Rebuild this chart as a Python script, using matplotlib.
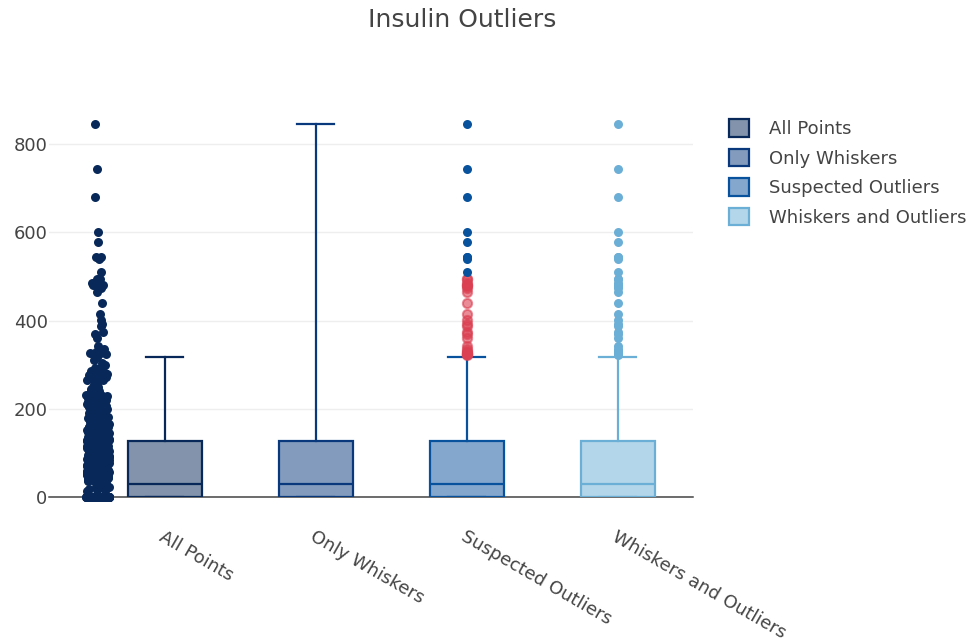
import matplotlib
matplotlib.use("Agg")
import matplotlib.pyplot as plt
from matplotlib.patches import Patch
import numpy as np

plt.rcParams["font.family"] = ["DejaVu Sans"]

# ---- data -------------------------------------------------------------
title = "Insulin Outliers"
categories = ["All Points", "Only Whiskers", "Suspected Outliers", "Whiskers and Outliers"]
colors = ["#072859", "#09387d", "#08519c", "#6baed6"]
suspected_color = (219 / 255, 64 / 255, 82 / 255, 0.6)

# insulin readings (Pima diabetes data)
insulin = [
    0, 0, 0, 94, 168, 0, 88, 0, 543, 0, 0, 0, 0, 846, 175, 0, 230, 0, 83, 96, 235, 0, 0, 0, 146, 115,
    0, 140, 110, 0, 0, 245, 54, 0, 0, 192, 0, 0, 0, 207, 70, 0, 0, 240, 0, 0, 82, 36, 23, 0, 300, 342,
    0, 304, 110, 0, 142, 128, 0, 0, 38, 100, 90, 140, 0, 270, 0, 0, 71, 0, 125, 0, 0, 71, 110, 0, 0,
    176, 48, 0, 64, 228, 0, 76, 64, 220, 0, 40, 0, 152, 0, 140, 18, 36, 135, 495, 37, 0, 175, 0, 0, 0,
    51, 100, 0, 100, 0, 0, 99, 135, 94, 145, 0, 168, 0, 225, 0, 49, 140, 50, 92, 0, 325, 0, 0, 63, 0,
    284, 0, 0, 119, 0, 0, 204, 0, 155, 485, 0, 0, 94, 135, 53, 114, 0, 105, 285, 0, 0, 156, 0, 0, 0,
    78, 0, 130, 0, 48, 55, 130, 0, 130, 0, 0, 0, 92, 23, 0, 0, 0, 495, 58, 114, 160, 0, 94, 0, 0, 0,
    210, 0, 48, 99, 318, 0, 0, 0, 44, 190, 0, 280, 0, 87, 0, 0, 0, 0, 130, 175, 271, 129, 120, 0, 0,
    478, 0, 0, 190, 56, 32, 0, 0, 744, 53, 0, 370, 37, 0, 45, 0, 192, 0, 0, 0, 0, 88, 0, 176, 194, 0,
    0, 680, 402, 0, 0, 0, 55, 0, 258, 0, 0, 0, 375, 150, 130, 0, 0, 0, 0, 67, 0, 0, 0, 0, 0, 57, 0, 0,
    0, 0, 116, 0, 0, 278, 0, 122, 155, 0, 0, 135, 545, 220, 49, 75, 40, 74, 182, 194, 0, 120, 360,
    215, 184, 0, 0, 42, 0, 0, 105, 132, 148, 180, 205, 0, 148, 96, 85, 0, 94, 64, 0, 140, 0, 231, 0,
    0, 29, 0, 168, 156, 0, 120, 68, 0, 52, 0, 58, 255, 0, 0, 171, 0, 105, 73, 0, 0, 108, 83, 0, 0, 74,
    0, 0, 0, 43, 167, 0, 54, 249, 325, 0, 0, 0, 293, 83, 0, 66, 140, 465, 89, 66, 94, 158, 325, 84, 75,
    0, 0, 72, 82, 0, 182, 59, 110, 0, 50, 0, 285, 81, 196, 0, 415, 87, 0, 275, 115, 0, 88, 165, 0, 0,
    0, 579, 0, 176, 310, 61, 167, 0, 474, 0, 115, 170, 76, 78, 210, 277, 0, 180, 145, 180, 0, 85, 60,
    0, 0, 0, 0, 50, 0, 120, 0, 14, 70, 92, 64, 63, 95, 0, 210, 0, 105, 0, 71, 237, 60, 56, 0, 49, 0,
    105, 36, 100, 0, 0, 140, 0, 0, 0, 191, 110, 0, 0, 75, 0, 328, 0, 49, 125, 0, 250, 480, 265, 0, 0,
    66, 0, 122, 0, 0, 0, 76, 145, 193, 71, 0, 79, 0, 0, 90, 170, 76, 0, 0, 210, 0, 86, 105, 165, 0,
    326, 66, 130, 0, 0, 82, 105, 188, 0, 106, 0, 0, 65, 0, 56, 210, 155, 215, 190, 0, 0, 56, 76, 225,
    207, 166, 0, 67, 0, 106, 0, 0, 0, 0, 44, 115, 0, 0, 0, 0, 215, 274, 77, 54, 0, 0, 88, 18, 126, 126,
    165, 44, 120, 330, 63, 130, 0, 0, 0, 600, 0, 0, 156, 0, 140, 0, 0, 115, 230, 185, 0, 25, 0, 120,
    0, 0, 126, 293, 41, 272, 182, 158, 194, 321, 0, 144, 0, 15, 0, 0, 160, 0, 115, 0, 54, 0, 0, 90, 0,
    0, 183, 0, 0, 66, 91, 46, 0, 105, 0, 0, 0, 0, 152, 440, 144, 159, 130, 0, 100, 106, 77, 0, 0, 135,
    540, 90, 200, 0, 70, 0, 0, 231, 130, 0, 132, 0, 190, 100, 168, 0, 49, 240, 0, 0, 265, 45, 0, 105,
    0, 205, 0, 0, 0, 180, 180, 0, 0, 95, 125, 0, 480, 125, 0, 155, 0, 0, 200, 0, 0, 0, 100, 0, 0, 335,
    0, 160, 387, 22, 0, 291, 0, 392, 185, 0, 178, 0, 0, 200, 127, 105, 0, 180, 0, 0, 79, 0, 120, 165,
    0, 0, 120, 0, 160, 0, 0, 150, 94, 116, 0, 140, 105, 0, 57, 200, 0, 0, 74, 0, 510, 0, 110, 0, 0, 0,
    16, 0, 0, 180, 0, 0, 112, 0, 0, 0, 0, 0, 0,
]

# box summary
q1 = 0.0
median = 30.5
q3 = 127.25
upper_whisker = 318.0
data_max = 846.0

# ---- figure -----------------------------------------------------------
W, H = 978, 641
fig = plt.figure(figsize=(W / 100, H / 100), dpi=100)
ax = fig.add_axes([49 / W, 1 - 497 / H, (693 - 49) / W, (497 - 100) / H])

values = np.array(insulin, dtype=float)
outliers = values[values > upper_whisker]
extreme_limit = 4 * q3 - 3 * q1

box_w = 0.49
for i, col in enumerate(colors):
    whishi = data_max if i == 1 else upper_whisker
    stats = [{"med": median, "q1": q1, "q3": q3, "whislo": q1, "whishi": whishi, "fliers": []}]
    ax.bxp(stats, positions=[i], widths=box_w, capwidths=box_w / 2, patch_artist=True,
           showfliers=False, manage_ticks=False,
           boxprops=dict(facecolor=matplotlib.colors.to_rgba(col, 0.5), edgecolor=col, linewidth=1.6),
           medianprops=dict(color=col, linewidth=1.6),
           whiskerprops=dict(color=col, linewidth=1.6),
           capprops=dict(color=col, linewidth=1.6), zorder=3)

# all points, jittered to the left of the first box
srt = np.sort(values)
order = np.argsort(values)
n = len(values)
factor = np.empty(n)
for rank, idx in enumerate(order):
    lo = srt[max(rank - 5, 0)]
    hi = srt[min(rank + 5, n - 1)]
    span = hi - lo
    factor[idx] = 1.0 if span <= 0 else min(1.0, np.sqrt(25.0 / span))
u = ((np.arange(n) * 0.6180339887) % 1.0) * 2 - 1
x_all = -0.445 + 0.075 * u * factor
ax.scatter(x_all, values, s=42, color=colors[0], linewidths=0, zorder=4, clip_on=False)

# suspected outliers column
mild = outliers[outliers <= extreme_limit]
far = outliers[outliers > extreme_limit]
ax.scatter(np.full(len(mild), 2.0), mild, s=44, color=suspected_color,
           edgecolors=suspected_color, linewidths=1.5, zorder=4)
ax.scatter(np.full(len(far), 2.0), far, s=42, color=colors[2], linewidths=0, zorder=4)

# whiskers and outliers column
ax.scatter(np.full(len(outliers), 3.0), outliers, s=42, color=colors[3], linewidths=0, zorder=4)

ax.set_xlim(-0.768, 3.497)
ax.set_ylim(0, 900)
ax.set_yticks([0, 200, 400, 600, 800])
ax.grid(axis="y", color="#eeeeee", linewidth=1)
ax.set_axisbelow(True)
ax.axhline(0, color="#444444", linewidth=1.1, zorder=2, clip_on=False)
for s in ax.spines.values():
    s.set_visible(False)
ax.tick_params(axis="y", length=0, pad=1, labelsize=13, labelcolor="#444444")
ax.set_xticks(range(len(categories)))
ax.set_xticklabels(categories, rotation=-30, ha="left", rotation_mode="anchor",
                   fontsize=13, color="#444444")
ax.tick_params(axis="x", length=0, pad=22)

handles = [Patch(facecolor=matplotlib.colors.to_rgba(c, 0.5), edgecolor=c, linewidth=1.6) for c in colors]
fig.legend(handles, categories, loc="upper left", bbox_to_anchor=(722 / W, 1 - 112 / H),
           frameon=False, fontsize=13, handlelength=1.1, handleheight=1.1,
           handletextpad=1.1, labelspacing=0.6, borderaxespad=0, labelcolor="#444444")

fig.text(462 / W, 1 - 20 / H, title, ha="center", va="center", fontsize=18, color="#444444")

fig.savefig("out.png", dpi=100)
